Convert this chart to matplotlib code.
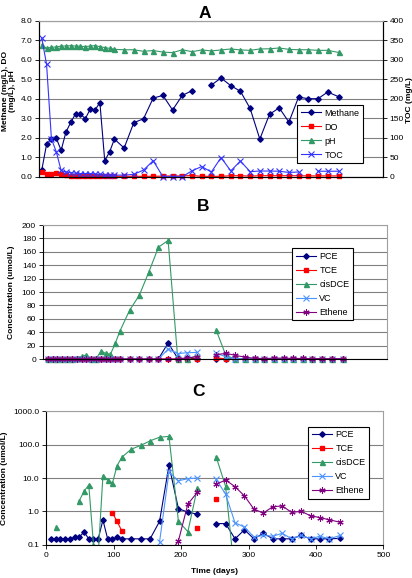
import numpy as np
import matplotlib
matplotlib.use('Agg')
import matplotlib.pyplot as plt
from matplotlib.ticker import FixedLocator, FuncFormatter, NullLocator, NullFormatter

plt.rcParams['font.family'] = ['Liberation Sans', 'DejaVu Sans']

nan = np.nan

# ---------------- data ----------------
days = [7, 14, 21, 28, 35, 42, 49, 56, 63, 70, 77, 84, 91, 98, 105, 112,
        126, 140, 154, 168, 182, 196, 210, 224, 238, 252, 266, 280, 294,
        308, 322, 336, 350, 364, 378, 392, 406, 420, 436]

# Panel A
methane = [0.33, 1.66, 1.93, 1.98, 1.35, 2.29, 2.79, 3.23, 3.2, 2.98, 3.46, 3.42, 3.8, 0.82, 1.27, 1.93,
           1.47, 2.77, 2.97, 4.03, 4.17, 3.42, 4.17, 4.41, nan, 4.7, 5.06, 4.67, 4.38,
           3.5, 1.93, 3.2, 3.53, 2.8, 4.08, 4.0, 4.0, 4.34, 4.1]
do = [0.25, 0.12, 0.12, 0.18, 0.15, 0.08, 0.05, 0.06, 0.05, 0.06, 0.05, 0.05, 0.04, 0.02, 0.02, 0.02,
      0.02, 0.02, 0.02, 0.02, 0.03, 0.04, 0.04, 0.06, 0.02, 0.02, 0.02, 0.05, 0.05,
      0.03, 0.05, 0.05, 0.05, 0.05, 0.05, 0.04, 0.04, 0.04, 0.04]
ph = [6.75, 6.58, 6.64, 6.65, 6.70, 6.70, 6.72, 6.70, 6.69, 6.67, 6.70, 6.72, 6.67, 6.62, 6.58, 6.53,
      6.51, 6.51, 6.43, 6.47, 6.39, 6.36, 6.51, 6.41, 6.50, 6.45, 6.50, 6.55, 6.50,
      6.48, 6.55, 6.56, 6.60, 6.53, 6.51, 6.51, 6.48, 6.48, 6.37]
toc = [356, 288, 97, 64, 16, 12, 10, 9, 8, 8, 8, 7, 6, 3.5, 4, 4,
       4, 6, 17, 41, 0, 0, 0, 15, 26, 12, 49, 15, 40,
       13, 14.5, 14.5, 14, 11, 12, nan, 14, 14, 14]

# Panels B and C
pce = [0.15, 0.15, 0.15, 0.15, 0.15, 0.165, 0.17, 0.24, 0.15, 0.15, 0.15, 0.55, 0.15, 0.15, 0.165, 0.15,
       0.15, 0.15, 0.15, 0.5, 24, 1.2, 0.95, 0.82, nan, 0.43, 0.43, 0.15, 0.28,
       0.15, 0.22, 0.15, 0.15, 0.15, 0.19, 0.15, 0.15, 0.15, 0.155]
tce = [0, 0, 0, 0, 0, 0, 0, 0, 0, 0, 0, 0, 0, 0.91, 0.5, 0.26,
       0, 0, 0, 0, 0, 0, 0, 0.31, nan, 2.3, 0, 0, 0,
       0, 0, 0, 0, 0, 0, 0, 0, 0, 0]
cisdce = [0, 0.34, 0, 0, 0, 0, 2.1, 4.0, 6.2, 0.1, 0.05, 11.7, 8.7, 6.9, 23.4, 42,
          73, 95, 130, 167, 177, 0.51, 0.245, 4.9, nan, 43, 5.6, 0.01, 0,
          0, 0, 0, 0, 0, 0, 0, 0, 0, 0]
vc = [0, 0, 0, 0, 0, 0, 0, 0, 0, 0, 0, 0, 0, 0, 0, 0,
      0, 0, 0, 0.12, 15, 8.3, 9.5, 10, nan, 9.1, 3.3, 0.45, 0.34,
      0.17, 0.19, 0.18, 0.22, 0.15, 0.19, 0.15, 0.18, 0.15, 0.19]
ethene = [0, 0, 0, 0, 0, 0, 0, 0, 0, 0, 0, 0, 0, 0, 0, 0,
          0, 0, 0, 0, 0.05, 0.13, 1.66, 3.7, nan, 6.5, 8.7, 5.5, 2.9,
          1.17, 0.89, 1.38, 1.45, 0.93, 1.0, 0.74, 0.65, 0.56, 0.47]

# ---------------- styles ----------------
NAVY = '#000080'
RED = '#FF0000'
GREEN = '#339966'
TOCBLUE = '#3333FF'
VCBLUE = '#4D94FF'
PURPLE = '#800080'
GRID = '#808080'
BORDER = '#a0a0a0'
AST = (6, 2, 0)

styles = {
    'Methane': dict(color=NAVY, marker='D', ms=2.8, lw=0.8),
    'DO': dict(color=RED, marker='s', ms=3.2, lw=0.8),
    'pH': dict(color=GREEN, marker='^', ms=3.6, lw=0.8),
    'TOC': dict(color=TOCBLUE, marker='x', ms=4.5, mew=0.8, lw=0.8),
    'PCE': dict(color=NAVY, marker='D', ms=2.8, lw=0.8),
    'TCE': dict(color=RED, marker='s', ms=3.2, lw=0.8),
    'cisDCE': dict(color=GREEN, marker='^', ms=3.6, lw=0.8),
    'VC': dict(color=VCBLUE, marker='x', ms=4.5, mew=0.8, lw=0.8),
    'Ethene': dict(color=PURPLE, marker=AST, ms=4.5, mew=0.8, lw=0.8),
}

TICKFS = 6
LABFS = 6
LEGFS = 6.5

fig = plt.figure(figsize=(4.12, 5.78), dpi=100)


def base_style(ax):
    ax.grid(True, axis='y', color=GRID, lw=0.8)
    ax.set_axisbelow(True)
    ax.spines['top'].set_color(BORDER)
    ax.spines['right'].set_color(BORDER)
    for s in ('left', 'bottom'):
        ax.spines[s].set_color('black')
    for s in ax.spines.values():
        s.set_linewidth(0.8)
    ax.tick_params(axis='y', labelsize=TICKFS, length=3, width=0.6, pad=2)
    ax.tick_params(axis='x', labelsize=TICKFS, length=3, width=0.6, pad=2)


def legend(ax, handles, labels, x0, y1):
    leg = ax.legend(handles, labels, loc='upper left', bbox_to_anchor=(x0, y1),
                    bbox_transform=fig.transFigure, fontsize=LEGFS, frameon=True,
                    fancybox=False, edgecolor='black', framealpha=1,
                    handlelength=2.2, handletextpad=0.4, labelspacing=0.55,
                    borderpad=0.4, borderaxespad=0)
    leg.get_frame().set_linewidth(0.8)
    return leg


# ---------------- Panel A ----------------
axA = fig.add_axes([0.0954, 0.6943, 0.8335, 0.2699])
base_style(axA)
axA.set_xlim(3.5, 499.5)
axA.set_ylim(0, 8)
axA.yaxis.set_major_locator(FixedLocator(np.arange(0, 8.01, 1.0)))
axA.yaxis.set_major_formatter(FuncFormatter(lambda v, p: f'{v:.1f}'))
axA.xaxis.set_major_locator(NullLocator())
axA.spines['right'].set_color('black')
hA = []
for name, vals in (('Methane', methane), ('DO', do), ('pH', ph)):
    ln, = axA.plot(days, vals, clip_on=False, **styles[name])
    hA.append(ln)
axA2 = axA.twinx()
axA2.set_ylim(0, 400)
axA2.yaxis.set_major_locator(FixedLocator(np.arange(0, 401, 50)))
axA2.tick_params(axis='y', labelsize=TICKFS, length=3, width=0.6, pad=2)
for s in axA2.spines.values():
    s.set_linewidth(0.8)
axA2.spines['top'].set_color(BORDER)
ln, = axA2.plot(days, toc, clip_on=False, **styles['TOC'])
hA.append(ln)
legend(axA2, hA, ['Methane', 'DO', 'pH', 'TOC'], 0.7216, 0.8183)

fig.text(0.4976, 0.9775, 'A', ha='center', va='center', fontsize=12.5, weight='bold')
fig.text(0.021, 0.8426, 'Methane (mg/L), DO\n(mg/L), pH', rotation=90, ha='center', va='center',
         fontsize=LABFS, weight='bold', linespacing=1.05)
fig.text(0.993, 0.827, 'TOC (mg/L)', rotation=90, ha='center', va='center',
         fontsize=LABFS, weight='bold')

# ---------------- Panel B ----------------
axB = fig.add_axes([0.1044, 0.3787, 0.8342, 0.232])
base_style(axB)
axB.set_xlim(0, 500)
axB.set_ylim(0, 200)
axB.yaxis.set_major_locator(FixedLocator(np.arange(0, 201, 20)))
axB.xaxis.set_major_locator(NullLocator())
hB = []
namesB = ['PCE', 'TCE', 'cisDCE', 'VC', 'Ethene']
seriesB = [pce, tce, cisdce, vc, ethene]
for name, vals in zip(namesB, seriesB):
    ln, = axB.plot(days, vals, clip_on=False, **styles[name])
    hB.append(ln)
legend(axB, hB, namesB, 0.7095, 0.5704)
fig.text(0.4927, 0.6424, 'B', ha='center', va='center', fontsize=12.5, weight='bold')
fig.text(0.029, 0.4947, 'Concentration (umol/L)', rotation=90, ha='center', va='center',
         fontsize=LABFS, weight='bold')

# ---------------- Panel C ----------------
axC = fig.add_axes([0.1124, 0.0576, 0.818, 0.2308])
base_style(axC)
axC.set_yscale('log')
axC.set_xlim(0, 500)
axC.set_ylim(0.1, 1000)
axC.yaxis.set_major_locator(FixedLocator([0.1, 1, 10, 100, 1000]))
axC.yaxis.set_major_formatter(FuncFormatter(lambda v, p: f'{v:.1f}'))
axC.yaxis.set_minor_locator(NullLocator())
axC.yaxis.set_minor_formatter(NullFormatter())
axC.xaxis.set_major_locator(FixedLocator(np.arange(0, 501, 100)))
hC = []
for name, vals in zip(namesB, seriesB):
    arr = np.array(vals, dtype=float)
    arr = np.where(arr > 0, arr, nan)
    ln, = axC.plot(days, arr, **styles[name])
    hC.append(ln)
legend(axC, hC, namesB, 0.7483, 0.2618)
fig.text(0.483, 0.3223, 'C', ha='center', va='center', fontsize=12.5, weight='bold')
fig.text(0.012, 0.173, 'Concentration (umol/L)', rotation=90, ha='center', va='center',
         fontsize=LABFS, weight='bold')
fig.text(0.521, 0.0104, 'Time (days)', ha='center', va='center', fontsize=LABFS, weight='bold')

fig.savefig('out.png', dpi=100)
